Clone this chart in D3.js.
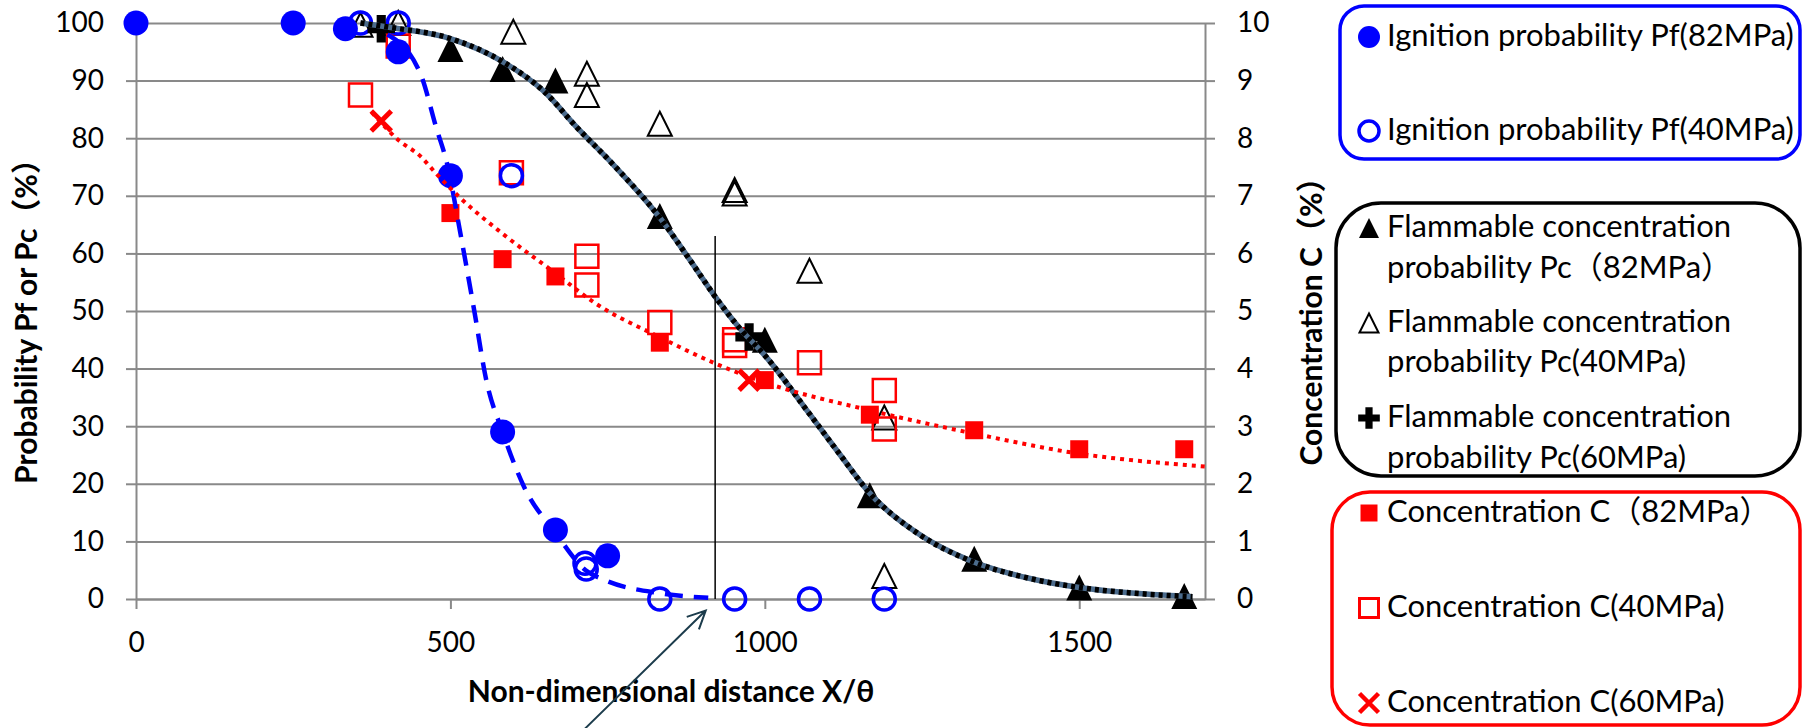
<!DOCTYPE html>
<html>
<head>
<meta charset="utf-8">
<script src="https://cdn.jsdelivr.net/npm/d3@7"></script>
<style>
	body { margin: 0; background: #fff; }
	svg text { font-family: Lato, "Noto Sans CJK JP", sans-serif; fill: #000; }
	.axis text { font-size: 28px; }
	.axis line, .axis path { stroke: #898989; stroke-width: 2px; }
	.grid line { stroke: #898989; stroke-width: 2px; }
	.grid path { display: none; }
	.title { font-size: 30px; font-weight: bold; }
	.leg { font-size: 31px; }
</style>
</head>
<body>
<div id="chart-area"></div>
<script>

// Data (x = X/θ, left axis in %, right axis C in %)
const pf82 = [[0, 100], [250, 100], [333, 99], [417, 95], [500, 73.5], [583, 29], [667, 12], [750, 7.5]]
const pf40 = [[357, 100], [417, 100], [597, 73.5], [714, 6.2], [716, 5.2], [833, 0], [952, 0], [1071, 0], [1190, 0]]
const pc82 = [[500, 95.5], [583, 92], [667, 90], [833, 66.5], [1000, 45], [1167, 18], [1333, 7], [1500, 2], [1667, 0.5]]
const pc40 = [[357, 99.7], [417, 100], [600, 98.5], [717, 91.2], [717, 87.5], [833, 82.5], [952, 71], [952, 70.4], [1071, 57], [1190, 31.5], [1190, 4]]
const pc60 = [[390, 99], [975, 45.5]]
const c82 = [[500, 6.7], [583, 5.9], [667, 5.6], [833, 4.45], [1000, 3.8], [1167, 3.2], [1333, 2.93], [1500, 2.6], [1667, 2.6]]
const c40 = [[357, 8.75], [417, 9.6], [597, 7.4], [717, 5.95], [717, 5.45], [833, 4.8], [952, 4.5], [952, 4.4], [1071, 4.1], [1190, 3.62], [1190, 2.95]]
const c60 = [[390, 8.3], [975, 3.8]]

// trend lines
const pfTrend = [[400, 98], [453, 91], [477, 82], [496, 75], [514, 64.6], [538, 50], [557, 38], [583, 29], [617, 19.5], [667, 11.5], [715, 5], [745, 3.3], [833, 1], [910, 0.2]]
const pcTrend = [[357, 100], [400, 99.3], [500, 97.3], [583, 93.3], [650, 88], [700, 82], [760, 75.3], [833, 66.2], [880, 59], [921, 52.5], [960, 47], [1000, 42.3], [1072, 32], [1120, 25], [1165, 18.6], [1243, 11.4], [1330, 6.5], [1420, 3.6], [1500, 2], [1600, 0.9], [1680, 0.4]]
const cTrend = [[375, 8.45], [417, 7.97], [453, 7.68], [477, 7.39], [514, 6.98], [582, 6.35], [664, 5.68], [731, 5.13], [832, 4.55], [921, 4.09], [997, 3.77], [1165, 3.28], [1329, 2.88], [1496, 2.53], [1700, 2.3]]

// annotation: vertical marker and arrow
const markLine = [[921, 0], [921, 63]]
const arrowLine = [[714, -22.5], [906, -2]]

const xTicks = [0, 500, 1000, 1500]
const yTicks = d3.range(0, 101, 10)
const cTicks = d3.range(0, 11, 1)

// Canvas
const width = 1802, height = 728
const plot = { left: 136, right: 1205, top: 23, bottom: 599 }

const svg = d3.select("#chart-area")
	.append("svg")
	.attr("width", width)
	.attr("height", height)

// Scales
const x = d3.scaleLinear().domain([0, 1700]).range([plot.left, plot.right])
const y = d3.scaleLinear().domain([0, 100]).range([plot.bottom, plot.top])
const yC = d3.scaleLinear().domain([0, 10]).range([plot.bottom, plot.top])

// Grid
svg.append("g")
	.attr("class", "grid")
	.attr("transform", `translate(${plot.left}, 0)`)
	.call(d3.axisLeft(y).tickValues(yTicks).tickSize(-(plot.right - plot.left)).tickFormat(""))

// Axes
svg.append("g")
	.attr("class", "axis")
	.attr("transform", `translate(${plot.left}, 0)`)
	.call(d3.axisLeft(y).tickValues(yTicks).tickSize(10).tickSizeOuter(0).tickPadding(22))

svg.append("g")
	.attr("class", "axis")
	.attr("transform", `translate(${plot.right}, 0)`)
	.call(d3.axisRight(yC).tickValues(cTicks).tickSize(10).tickSizeOuter(0).tickPadding(22))

svg.append("g")
	.attr("class", "axis")
	.attr("transform", `translate(0, ${plot.bottom})`)
	.call(d3.axisBottom(x).tickValues(xTicks).tickFormat(d3.format("d")).tickSize(10).tickSizeOuter(0).tickPadding(23))

// Axis titles
svg.append("text")
	.attr("class", "title")
	.attr("transform", "translate(37, 314) rotate(-90)")
	.attr("text-anchor", "middle")
	.text("Probability Pf or Pc（%）")

svg.append("text")
	.attr("class", "title")
	.attr("transform", "translate(1322, 314) rotate(-90)")
	.attr("text-anchor", "middle")
	.text("Concentration C（%）")

svg.append("text")
	.attr("class", "title")
	.attr("x", 671)
	.attr("y", 702)
	.attr("text-anchor", "middle")
	.text("Non-dimensional distance X/θ")

// Marker shapes
const tri = (s) => `M0,${-s / 2}L${s / 2},${s / 2}L${-s / 2},${s / 2}Z`
const sq = (s) => `M${-s / 2},${-s / 2}h${s}v${s}h${-s}Z`
const cross = (s) => `M${-s / 2},${-s / 2}L${s / 2},${s / 2}M${s / 2},${-s / 2}L${-s / 2},${s / 2}`
const circ = (r) => `M${r},0A${r},${r} 0 1,1 ${-r},0A${r},${r} 0 1,1 ${r},0Z`
const plus = d3.symbol().type(d3.symbolCross)

function drawPoints(data, sy, d, fill, stroke, sw) {
	svg.append("g").selectAll("path")
		.data(data)
		.join("path")
		.attr("transform", p => `translate(${x(p[0])}, ${sy(p[1])})`)
		.attr("d", d)
		.attr("fill", fill)
		.attr("stroke", stroke)
		.attr("stroke-width", sw)
}

drawPoints(pc40, y, tri(24), "none", "#000", 2)
drawPoints(pc82, y, tri(26), "#000", "none", 0)
drawPoints(c40, yC, sq(23), "none", "#ff0000", 2.5)
drawPoints(c82, yC, sq(18), "#ff0000", "none", 0)
drawPoints(pf82, y, circ(12.5), "#0000ff", "none", 0)
drawPoints(pf40, y, circ(11), "none", "#0000ff", 3.5)
drawPoints(pc60, y, plus.size(420)(), "#000", "none", 0)
drawPoints(c60, yC, cross(20), "none", "#ff0000", 5)

// Trend lines
const lineL = d3.line().x(d => x(d[0])).y(d => y(d[1])).curve(d3.curveMonotoneX)
const lineC = d3.line().x(d => x(d[0])).y(d => yC(d[1])).curve(d3.curveMonotoneX)

svg.append("path")
	.attr("d", lineL(pfTrend))
	.attr("fill", "none")
	.attr("stroke", "#0000ff")
	.attr("stroke-width", 4.5)
	.attr("stroke-dasharray", "18,11")

svg.append("path")
	.attr("d", lineL(pcTrend))
	.attr("fill", "none")
	.attr("stroke", "#4b6b8c")
	.attr("stroke-width", 5.5)

svg.append("path")
	.attr("d", lineL(pcTrend))
	.attr("fill", "none")
	.attr("stroke", "#000")
	.attr("stroke-width", 5.5)
	.attr("stroke-dasharray", "4,4")

svg.append("path")
	.attr("d", lineC(cTrend))
	.attr("fill", "none")
	.attr("stroke", "#ff0000")
	.attr("stroke-width", 4)
	.attr("stroke-dasharray", "4,5")

// Vertical marker and arrow
const lineRaw = d3.line().x(d => x(d[0])).y(d => y(d[1]))
svg.append("path")
	.attr("d", lineRaw(markLine))
	.attr("stroke", "#000")
	.attr("stroke-width", 1.5)

const a0 = [x(arrowLine[0][0]), y(arrowLine[0][1])]
const a1 = [x(arrowLine[1][0]), y(arrowLine[1][1])]
const ang = Math.atan2(a1[1] - a0[1], a1[0] - a0[0])
const head = 20, spread = 0.45
svg.append("path")
	.attr("d", `M${a0[0]},${a0[1]}L${a1[0]},${a1[1]}` +
		`M${a1[0] - head * Math.cos(ang - spread)},${a1[1] - head * Math.sin(ang - spread)}L${a1[0]},${a1[1]}` +
		`L${a1[0] - head * Math.cos(ang + spread)},${a1[1] - head * Math.sin(ang + spread)}`)
	.attr("fill", "none")
	.attr("stroke", "#1c3c4c")
	.attr("stroke-width", 2)

// Legend
const legendBoxes = [
	{ x: 1340, y: 6, w: 460, h: 153, r: 24, color: "#0000ff" },
	{ x: 1336, y: 203, w: 464, h: 273, r: 45, color: "#000" },
	{ x: 1332, y: 492, w: 468, h: 233, r: 38, color: "#ff0000" }
]
svg.append("g").selectAll("rect")
	.data(legendBoxes)
	.join("rect")
	.attr("x", d => d.x).attr("y", d => d.y)
	.attr("width", d => d.w).attr("height", d => d.h)
	.attr("rx", d => d.r).attr("ry", d => d.r)
	.attr("fill", "none")
	.attr("stroke", d => d.color)
	.attr("stroke-width", 3.5)

const legendItems = [
	{ my: 37, lines: [[46, "Ignition probability Pf(82MPa)"]], d: circ(11), fill: "#0000ff", stroke: "none", sw: 0 },
	{ my: 131, lines: [[140, "Ignition probability Pf(40MPa)"]], d: circ(10), fill: "none", stroke: "#0000ff", sw: 3.5 },
	{ my: 228, lines: [[237, "Flammable concentration"], [278, "probability Pc（82MPa）"]], d: tri(20), fill: "#000", stroke: "none", sw: 0 },
	{ my: 323, lines: [[332, "Flammable concentration"], [372, "probability Pc(40MPa)"]], d: tri(19), fill: "none", stroke: "#000", sw: 2 },
	{ my: 418, lines: [[427, "Flammable concentration"], [468, "probability Pc(60MPa)"]], d: plus.size(260)(), fill: "#000", stroke: "none", sw: 0 },
	{ my: 513, lines: [[522, "Concentration C（82MPa）"]], d: sq(17), fill: "#ff0000", stroke: "none", sw: 0 },
	{ my: 608, lines: [[617, "Concentration C(40MPa)"]], d: sq(19), fill: "none", stroke: "#ff0000", sw: 3 },
	{ my: 703, lines: [[712, "Concentration C(60MPa)"]], d: cross(19), fill: "none", stroke: "#ff0000", sw: 4.5 }
]

const leg = svg.append("g").selectAll("g")
	.data(legendItems)
	.join("g")

leg.append("path")
	.attr("transform", d => `translate(1369, ${d.my})`)
	.attr("d", d => d.d)
	.attr("fill", d => d.fill)
	.attr("stroke", d => d.stroke)
	.attr("stroke-width", d => d.sw)

leg.selectAll("text")
	.data(d => d.lines)
	.join("text")
	.attr("class", "leg")
	.attr("x", 1387)
	.attr("y", d => d[0])
	.text(d => d[1])

</script>
</body>
</html>
